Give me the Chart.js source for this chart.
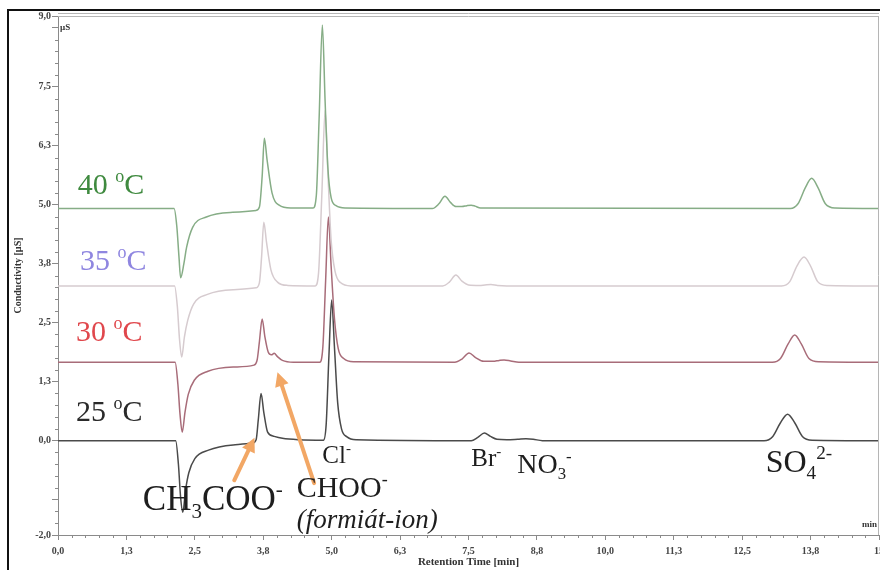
<!DOCTYPE html>
<html>
<head>
<meta charset="utf-8">
<script src="https://cdn.jsdelivr.net/npm/chart.js@4.4.1/dist/chart.umd.min.js"></script>
<style>
  html, body { margin: 0; padding: 0; background: #fff; }
  #wrap { width: 880px; height: 570px; position: relative; }
</style>
</head>
<body>
<div id="wrap"><canvas id="c" width="880" height="570"></canvas></div>
<script>
// ---- data (retention time [min], conductivity [µS]) ----
const trace40 = [[0,4.92],[2.12,4.92],[2.17,4.55],[2.21,3.9],[2.24,3.45],[2.3,3.75],[2.35,4.1],[2.46,4.52],[2.71,4.74],[3.19,4.84],[3.62,4.88],[3.68,4.95],[3.73,5.6],[3.77,6.41],[3.82,5.95],[3.91,5.25],[4.04,4.99],[4.25,4.93],[4.66,4.93],[4.72,5.2],[4.77,6.8],[4.83,8.81],[4.88,7.2],[4.93,5.8],[4.99,5.15],[5.08,4.98],[5.25,4.93],[6.84,4.92],[6.96,5.02],[7.07,5.18],[7.17,5.05],[7.27,4.96],[7.38,4.96],[7.47,4.98],[7.55,4.99],[7.62,4.97],[7.72,4.93],[13.38,4.92],[13.52,5.02],[13.65,5.35],[13.77,5.56],[13.89,5.35],[14.02,5.02],[14.2,4.93],[15,4.92]];
const trace35 = [[0,3.28],[2.13,3.28],[2.18,2.85],[2.22,2.15],[2.26,1.77],[2.31,2.2],[2.37,2.55],[2.48,2.9],[2.73,3.1],[3.2,3.2],[3.62,3.24],[3.68,3.35],[3.72,3.9],[3.76,4.63],[3.81,4.2],[3.89,3.62],[4.01,3.36],[4.2,3.29],[4.7,3.28],[4.76,3.55],[4.82,5.2],[4.88,7.0],[4.93,5.7],[4.99,4.25],[5.06,3.6],[5.16,3.35],[5.35,3.28],[7.03,3.28],[7.15,3.36],[7.27,3.51],[7.38,3.38],[7.5,3.3],[7.7,3.29],[7.8,3.3],[7.91,3.31],[8.03,3.29],[8.2,3.28],[13.22,3.28],[13.37,3.37],[13.5,3.7],[13.63,3.89],[13.75,3.7],[13.88,3.37],[14.05,3.29],[15,3.28]];
const trace30 = [[0,1.66],[2.14,1.66],[2.19,1.2],[2.23,0.55],[2.27,0.18],[2.32,0.6],[2.38,0.98],[2.49,1.28],[2.74,1.47],[3.2,1.56],[3.58,1.6],[3.64,1.72],[3.68,2.1],[3.73,2.58],[3.78,2.2],[3.84,1.88],[3.9,1.82],[3.95,1.85],[4.01,1.78],[4.1,1.7],[4.3,1.66],[4.78,1.66],[4.84,2.0],[4.89,3.4],[4.94,4.74],[4.99,3.7],[5.05,2.6],[5.12,1.95],[5.22,1.74],[5.4,1.67],[7.25,1.66],[7.38,1.73],[7.51,1.86],[7.63,1.76],[7.78,1.68],[7.95,1.68],[8.06,1.7],[8.15,1.71],[8.27,1.69],[8.42,1.66],[13.05,1.66],[13.2,1.74],[13.34,2.05],[13.46,2.24],[13.58,2.05],[13.72,1.74],[13.9,1.67],[15,1.66]];
const trace25 = [[0,0],[2.15,0],[2.2,-0.5],[2.24,-1.2],[2.28,-1.52],[2.33,-1.05],[2.39,-0.68],[2.5,-0.38],[2.75,-0.2],[3.2,-0.09],[3.55,-0.05],[3.62,0.02],[3.66,0.45],[3.71,1.0],[3.76,0.6],[3.83,0.18],[3.95,0.09],[4.1,0.05],[4.4,0.02],[4.85,0.01],[4.9,0.35],[4.95,1.8],[5.0,2.98],[5.05,2.0],[5.11,0.8],[5.18,0.25],[5.28,0.08],[5.45,0.02],[7.55,0],[7.67,0.07],[7.79,0.16],[7.9,0.09],[8.02,0.03],[8.2,0.02],[8.4,0.03],[8.55,0.04],[8.68,0.03],[8.85,0],[12.9,0],[13.06,0.09],[13.2,0.38],[13.33,0.56],[13.46,0.38],[13.6,0.09],[13.78,0.01],[15,0]];

const seriesNames = ['40 °C', '35 °C', '30 °C', '25 °C'];

const xTickValues = [0, 1.25, 2.5, 3.75, 5, 6.25, 7.5, 8.75, 10, 11.25, 12.5, 13.75, 15];
const xTickLabels = ['0,0', '1,3', '2,5', '3,8', '5,0', '6,3', '7,5', '8,8', '10,0', '11,3', '12,5', '13,8', '15'];
const yTickValues = [-2, -1.25, 0, 1.25, 2.5, 3.75, 5, 6.25, 7.5, 8.75, 9];
const yTickLabels = ['-2,0', '', '0,0', '1,3', '2,5', '3,8', '5,0', '6,3', '7,5', '', '9,0'];

// ---- styles ----
const SERIF = '"Liberation Serif", "Times New Roman", serif';
const lineColors = ['#86ad86', '#d6cbcf', '#a86c79', '#4a4a4a'];

// annotation texts (positions in data units)
const tempLabels = [
  { parts: [['40 '], ['o', 'sup'], ['C']], x: 0.36, y: 5.22, size: 30, color: '#3f8a3f' },
  { parts: [['35 '], ['o', 'sup'], ['C']], x: 0.40, y: 3.62, size: 30, color: '#8f86e0' },
  { parts: [['30 '], ['o', 'sup'], ['C']], x: 0.33, y: 2.12, size: 30, color: '#e0474c' },
  { parts: [['25 '], ['o', 'sup'], ['C']], x: 0.33, y: 0.41, size: 30, color: '#2a2a2a' }
];
const ionLabels = [
  { parts: [['Cl'], ['-', 'sup']], x: 4.83, y: -0.47, size: 25 },
  { parts: [['CH'], ['3', 'sub'], ['COO'], ['-', 'sup']], x: 1.55, y: -1.47, size: 35 },
  { parts: [['CHOO'], ['-', 'sup']], x: 4.36, y: -1.2, size: 30 },
  { parts: [['(formiát-ion)']], x: 4.36, y: -1.85, size: 27, italic: true },
  { parts: [['Br'], ['-', 'sup']], x: 7.55, y: -0.54, size: 25 },
  { parts: [['NO'], ['3', 'sub'], ['-', 'sup']], x: 8.39, y: -0.69, size: 28 },
  { parts: [['SO'], ['4', 'sub'], ['2-', 'sup']], x: 12.93, y: -0.67, size: 32 }
];
const arrows = [
  { from: [3.22, -0.84], to: [3.59, 0.06] },
  { from: [4.68, -0.90], to: [4.01, 1.45] }
];

function drawRich(ctx, parts, x, y, size, color, italic) {
  let cx = x;
  ctx.fillStyle = color;
  ctx.textBaseline = 'alphabetic';
  ctx.textAlign = 'left';
  for (const p of parts) {
    const kind = p[1];
    const fs = kind ? size * 0.6 : size;
    ctx.font = (italic ? 'italic ' : '') + fs + 'px ' + SERIF;
    const dy = kind === 'sub' ? size * 0.22 : kind === 'sup' ? -size * 0.4 : 0;
    ctx.fillText(p[0], cx, y + dy);
    cx += ctx.measureText(p[0]).width;
  }
}

const decor = {
  id: 'decor',
  beforeDraw(chart) {
    const ctx = chart.ctx;
    ctx.save();
    ctx.fillStyle = '#fff';
    ctx.fillRect(0, 0, chart.width, chart.height);
    ctx.restore();
  },
  afterDatasetsDraw(chart) {
    const { ctx, scales: { x, y } } = chart;
    ctx.save();
    ctx.strokeStyle = '#f2a765';
    ctx.fillStyle = '#f2a765';
    ctx.lineWidth = 4;
    ctx.lineCap = 'round';
    for (const a of arrows) {
      const x1 = x.getPixelForValue(a.from[0]), y1 = y.getPixelForValue(a.from[1]);
      const x2 = x.getPixelForValue(a.to[0]), y2 = y.getPixelForValue(a.to[1]);
      const ang = Math.atan2(y2 - y1, x2 - x1);
      const hl = 14, hw = 7;
      const bx = x2 - hl * Math.cos(ang), by = y2 - hl * Math.sin(ang);
      ctx.beginPath(); ctx.moveTo(x1, y1); ctx.lineTo(bx, by); ctx.stroke();
      ctx.beginPath();
      ctx.moveTo(x2, y2);
      ctx.lineTo(bx + hw * Math.sin(ang), by - hw * Math.cos(ang));
      ctx.lineTo(bx - hw * Math.sin(ang), by + hw * Math.cos(ang));
      ctx.closePath(); ctx.fill();
    }
    for (const t of tempLabels) {
      drawRich(ctx, t.parts, x.getPixelForValue(t.x), y.getPixelForValue(t.y), t.size, t.color, false);
    }
    for (const t of ionLabels) {
      drawRich(ctx, t.parts, x.getPixelForValue(t.x), y.getPixelForValue(t.y), t.size, '#1e1e1e', t.italic);
    }
    ctx.restore();
  },
  afterDraw(chart) {
    const { ctx, chartArea: a, scales: { x, y } } = chart;
    ctx.save();
    ctx.strokeStyle = '#b5b5b5';
    ctx.lineWidth = 1;
    ctx.beginPath();
    ctx.moveTo(a.left, a.top + 0.5); ctx.lineTo(a.right, a.top + 0.5);
    ctx.moveTo(a.left, a.top - 2.5); ctx.lineTo(a.right, a.top - 2.5);
    ctx.moveTo(a.right - 0.5, a.top); ctx.lineTo(a.right - 0.5, a.bottom);
    ctx.stroke();
    ctx.strokeStyle = '#8a8a8a';
    ctx.beginPath();
    for (let v = 0; v <= 15.001; v += 0.25) {
      if (xTickValues.some(t => Math.abs(t - v) < 1e-6)) continue;
      const px = Math.round(x.getPixelForValue(v)) + 0.5;
      ctx.moveTo(px, a.bottom); ctx.lineTo(px, a.bottom + 3);
    }
    for (let v = -2; v <= 9.001; v += 0.25) {
      if (yTickValues.some(t => Math.abs(t - v) < 1e-6)) continue;
      const py = Math.round(y.getPixelForValue(v)) + 0.5;
      ctx.moveTo(a.left - 3, py); ctx.lineTo(a.left, py);
    }
    ctx.stroke();
    ctx.fillStyle = '#333';
    ctx.font = 'bold 9px ' + SERIF;
    ctx.textAlign = 'left'; ctx.textBaseline = 'alphabetic';
    ctx.fillText('µS', a.left + 2, a.top + 14);
    ctx.textAlign = 'right';
    ctx.fillText('min', a.right - 2, a.bottom - 8);
    ctx.fillStyle = '#111';
    ctx.fillRect(7, 9, chart.width - 7, 2);
    ctx.fillRect(7, 9, 2, chart.height - 9);
    ctx.restore();
  }
};

const datasets = [trace40, trace35, trace30, trace25].map((tr, i) => ({
  label: seriesNames[i],
  data: tr.map(p => ({ x: p[0], y: p[1] })),
  borderColor: lineColors[i],
  borderWidth: 1.5,
  pointRadius: 0,
  fill: false,
  cubicInterpolationMode: 'monotone'
}));

const tickFont = { family: SERIF, size: 10, weight: 'bold' };

new Chart(document.getElementById('c'), {
  type: 'line',
  data: { datasets },
  plugins: [decor],
  options: {
    responsive: false,
    animation: false,
    devicePixelRatio: 1,
    layout: { padding: { top: 16, right: 1, left: 0, bottom: 0 } },
    plugins: { legend: { display: false }, tooltip: { enabled: false } },
    scales: {
      x: {
        type: 'linear', min: 0, max: 15, position: 'bottom',
        afterBuildTicks: s => { s.ticks = xTickValues.map(v => ({ value: v })); },
        afterFit: s => { s.height = 35; s.paddingLeft = 0; s.paddingRight = 0; },
        ticks: { autoSkip: false, maxRotation: 0, callback: (v, i) => xTickLabels[i], font: tickFont, color: '#444', padding: 5 },
        grid: { drawOnChartArea: false, tickLength: 5, color: '#8a8a8a', tickColor: '#8a8a8a' },
        border: { color: '#8a8a8a', width: 1 },
        title: { display: true, text: 'Retention Time [min]', font: { family: SERIF, size: 11, weight: 'bold' }, color: '#333', padding: { top: 0, bottom: 1 } }
      },
      y: {
        type: 'linear', min: -2, max: 9,
        afterBuildTicks: s => { s.ticks = yTickValues.map(v => ({ value: v })); },
        afterFit: s => { s.width = 58; s.paddingTop = 0; s.paddingBottom = 0; },
        ticks: { autoSkip: false, callback: (v, i) => yTickLabels[i], font: tickFont, color: '#444', padding: 1 },
        grid: { drawOnChartArea: false, tickLength: 6, color: '#8a8a8a', tickColor: '#8a8a8a' },
        border: { color: '#8a8a8a', width: 1 },
        title: { display: true, text: 'Conductivity [µS]', font: { family: SERIF, size: 10, weight: 'bold' }, color: '#333', padding: { top: 12, bottom: 0 } }
      }
    }
  }
});
</script>
</body>
</html>
